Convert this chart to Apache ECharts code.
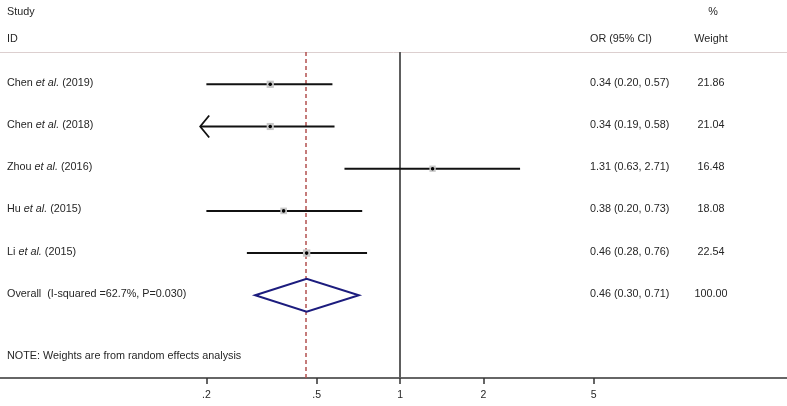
<!DOCTYPE html>
<html>
<head>
<meta charset="utf-8">
<script src="https://cdn.jsdelivr.net/npm/echarts@6/dist/echarts.min.js"></script>
<style>html,body{margin:0;padding:0;background:#fff}#c{width:787px;height:406px}</style>
</head>
<body>
<div id="c"></div>
<script>
// ---- data ----
const studyAuthors = ['Chen', 'Chen', 'Zhou', 'Hu', 'Li'];
const studyYears = ['2019', '2018', '2016', '2015', '2015'];
const orValues = [0.34, 0.34, 1.31, 0.38, 0.46];
const ciLower = [0.20, 0.19, 0.63, 0.20, 0.28];
const ciUpper = [0.57, 0.58, 2.71, 0.73, 0.76];
const weights = [21.86, 21.04, 16.48, 18.08, 22.54];
const overallLabel = 'Overall  (I-squared =62.7%, P=0.030)';
const overallOR = 0.46, overallLower = 0.30, overallUpper = 0.71, overallWeight = 100.00;
const tickValues = [0.2, 0.5, 1, 2, 5];
const tickLabels = ['.2', '.5', '1', '2', '5'];
const noteText = 'NOTE: Weights are from random effects analysis';
const axisMinOR = 0.0360, axisMaxOR = 24.9;

// ---- build ----
const FONT = 'Liberation Sans, Arial, Helvetica, sans-serif';
const FS = 10.8;
const TXT = '#262626';
const L = Math.log10;
const fmt = v => v.toFixed(2);

const studyData = orValues.map((v, i) => [L(v), i + 1, L(ciLower[i]), L(ciUpper[i]), weights[i], i]);
const overallData = [[L(overallOR), studyData.length + 1, L(overallLower), L(overallUpper)]];
const rowData = [];
orValues.forEach((v, i) => rowData.push({
  value: [0, i + 1],
  label: '{n|' + studyAuthors[i] + ' }{i|et al.}{n| (' + studyYears[i] + ')}',
  ci: fmt(v) + ' (' + fmt(ciLower[i]) + ', ' + fmt(ciUpper[i]) + ')',
  w: fmt(weights[i])
}));
rowData.push({
  value: [0, studyData.length + 1],
  label: '{n|' + overallLabel + '}',
  ci: fmt(overallOR) + ' (' + fmt(overallLower) + ', ' + fmt(overallUpper) + ')',
  w: fmt(overallWeight)
});

const rich = {
  n: {fontFamily: FONT, fontSize: FS, fill: TXT, color: TXT},
  i: {fontFamily: FONT, fontSize: FS, fontStyle: 'italic', fill: TXT, color: TXT}
};
const font = FS + 'px ' + FONT;

const chart = echarts.init(document.getElementById('c'));
chart.setOption({
  animation: false,
  grid: {left: 0, right: 0, top: 52, bottom: 28},
  xAxis: [{
    type: 'value', min: L(axisMinOR), max: L(axisMaxOR),
    splitLine: {show: false},
    axisLine: {show: true, lineStyle: {color: '#333', width: 1.5}},
    axisTick: {show: true, customValues: tickValues.map(L), length: 6, lineStyle: {color: '#333', width: 1.5}},
    axisLabel: {
      show: true, customValues: tickValues.map(L), margin: 12,
      fontFamily: FONT, fontSize: 10.5, color: TXT,
      formatter: function (v) {
        let best = 0, d = Infinity;
        tickValues.forEach((t, k) => { const e = Math.abs(L(t) - v); if (e < d) { d = e; best = k; } });
        return tickLabels[best];
      }
    }
  }, {
    type: 'value', position: 'top', min: L(axisMinOR), max: L(axisMaxOR),
    splitLine: {show: false}, axisTick: {show: false}, axisLabel: {show: false},
    axisLine: {show: true, lineStyle: {color: '#dccfcf', width: 1}}
  }],
  yAxis: {type: 'value', inverse: true, min: 0.2346, max: 7.96, show: false},
  graphic: [
    {type: 'text', x: 7, y: 12, style: {text: 'Study', font: font, fill: TXT, textVerticalAlign: 'middle'}},
    {type: 'text', x: 7, y: 39, style: {text: 'ID', font: font, fill: TXT, textVerticalAlign: 'middle'}},
    {type: 'text', x: 590, y: 39, style: {text: 'OR (95% CI)', font: font, fill: TXT, textVerticalAlign: 'middle'}},
    {type: 'text', x: 713, y: 12, style: {text: '%', font: font, fill: TXT, textAlign: 'center', textVerticalAlign: 'middle'}},
    {type: 'text', x: 711, y: 39, style: {text: 'Weight', font: font, fill: TXT, textAlign: 'center', textVerticalAlign: 'middle'}},
    {type: 'text', x: 7, y: 356, style: {text: noteText, font: font, fill: TXT, textVerticalAlign: 'middle'}}
  ],
  series: [
    {
      type: 'custom', coordinateSystem: 'cartesian2d', data: studyData, z: 5,
      renderItem: function (params, api) {
        const p = api.coord([api.value(0), api.value(1)]);
        const lo = api.coord([api.value(2), api.value(1)]);
        const hi = api.coord([api.value(3), api.value(1)]);
        const idx = api.value(5);
        const s = 1.55 * Math.sqrt(api.value(4));
        const children = [
          {type: 'line', shape: {x1: lo[0], y1: lo[1], x2: hi[0], y2: hi[1]}, style: {stroke: '#111', lineWidth: 2}},
          {type: 'rect', shape: {x: p[0] - s / 2, y: p[1] - s / 2, width: s, height: s}, style: {fill: '#c8c8c8'}},
          {type: 'circle', shape: {cx: p[0], cy: p[1], r: 1.8}, style: {fill: '#000'}}
        ];
        if (ciLower[idx] < tickValues[0]) {
          children.push({type: 'polyline', shape: {points: [[lo[0] + 9, lo[1] - 11], [lo[0], lo[1]], [lo[0] + 9, lo[1] + 11]]},
            style: {stroke: '#111', lineWidth: 1.8, fill: null}});
        }
        return {type: 'group', children: children};
      },
      markLine: {
        silent: true, symbol: 'none', label: {show: false},
        data: [
          {xAxis: 0, lineStyle: {color: '#5e5e5e', width: 2, type: 'solid'}},
          {xAxis: L(overallOR), lineStyle: {color: '#b3504f', width: 1.5, type: [4, 3]}}
        ]
      }
    },
    {
      type: 'custom', coordinateSystem: 'cartesian2d', data: overallData, z: 6,
      renderItem: function (params, api) {
        const p = api.coord([api.value(0), api.value(1)]);
        const lo = api.coord([api.value(2), api.value(1)]);
        const hi = api.coord([api.value(3), api.value(1)]);
        const h = 16.5;
        return {type: 'polygon', shape: {points: [[lo[0], p[1]], [p[0], p[1] - h], [hi[0], p[1]], [p[0], p[1] + h]]},
          style: {stroke: '#1c1c7e', lineWidth: 2, fill: null}};
      }
    },
    {
      type: 'custom', coordinateSystem: 'cartesian2d', data: rowData, z: 7,
      renderItem: function (params, api) {
        const y = api.coord([0, api.value(1)])[1] - 1.5;
        const item = rowData[params.dataIndex];
        return {type: 'group', children: [
          {type: 'text', style: {x: 7, y: y, text: item.label, rich: rich, textVerticalAlign: 'middle', textAlign: 'left'}},
          {type: 'text', style: {x: 590, y: y, text: item.ci, font: font, fill: TXT, textVerticalAlign: 'middle', textAlign: 'left'}},
          {type: 'text', style: {x: 711, y: y, text: item.w, font: font, fill: TXT, textVerticalAlign: 'middle', textAlign: 'center'}}
        ]};
      }
    }
  ]
});
</script>
</body>
</html>
